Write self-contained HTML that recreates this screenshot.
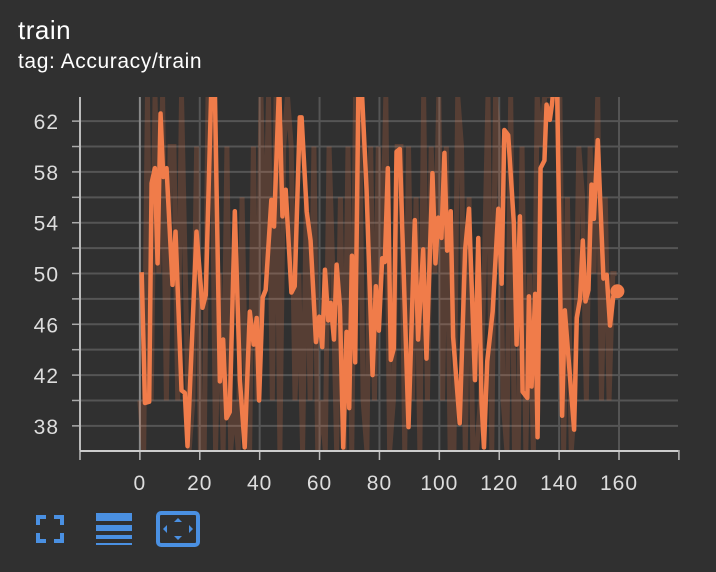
<!DOCTYPE html>
<html><head><meta charset="utf-8"><style>
html,body{margin:0;padding:0;background:#303030;width:716px;height:572px;overflow:hidden;font-family:"Liberation Sans",sans-serif;}
#title{position:absolute;left:18px;top:15px;color:#fff;font-size:26px;letter-spacing:0.5px;}
#sub{position:absolute;left:18px;top:50px;color:#fff;font-size:21px;letter-spacing:0.6px;}
svg{position:absolute;left:0;top:0;}
</style></head><body>
<div id="title">train</div>
<div id="sub">tag: Accuracy/train</div>
<svg id="chart" width="716" height="572"></svg>
<script>
const steps=[0.6,1.7,3.1,3.9,5,5.9,6.9,7.8,8.9,10.9,11.9,13.9,15,15.9,18.9,20.9,22,23.9,25,26.7,27.8,28.9,30,31.7,33.4,35,36.7,38,39,39.8,41,42,43.9,44.8,46.5,47.6,48.7,50.6,51.7,53.4,54,55.7,57,58.8,59.9,60.9,61.8,62.9,63.7,64.8,65.7,66.8,67.9,69,69.9,70.8,71.9,73,74,75.7,77.7,78.8,79.8,80.9,81.8,82.8,83.8,84.8,85.7,86.8,89.7,91.8,92.9,94.6,95.7,97.7,98.7,99.6,100.7,101.7,102.6,103.8,104.6,106.8,108.6,109.9,111.9,113,114.1,114.9,116,117.8,119.7,120.8,121.7,123,124.9,125.8,126.9,127.8,129.4,129.9,130.8,132,132.8,133.8,135.1,135.8,136.9,137.6,138.3,139.3,141,141.9,145,145.9,147,147.9,148.8,149.8,150.8,151.6,152.9,154.8,155.9,157,158.1,159.2];
const smoothed=[50.1,39.8,39.9,57.1,58.3,50.8,62.6,57.6,58.3,49.1,53.3,40.8,40.6,36.4,53.3,47.3,48.3,65,65,41.5,44.8,38.6,39.1,54.9,41.6,36.3,47,44.4,46.5,40,48.1,48.7,55.8,53.7,65,54.5,56.6,48.5,49,62.3,62.3,54.9,52.6,44.6,46.6,44.2,50.3,46.3,47.7,44.8,50.7,47.4,36.3,45.4,39.4,51.4,43,65,65,56.6,42,49,45.5,51.2,50.9,58.3,43.2,44.1,59.6,59.8,37.9,54.2,44.8,51.9,43.3,57.9,50.8,54.4,52.8,59.5,51.8,54.9,45,38.2,51.8,55.1,41.6,52.8,39.8,36.3,43.1,47,55.1,49.2,61.3,60.9,53.9,44.4,54.5,40.7,40.2,48.2,41.1,48.4,37.1,58.3,58.9,63.3,62.1,63.3,65,65,38.8,47.1,37.7,46.5,48,52.6,47.8,48.7,57,54.3,60.5,49.6,49.9,45.9,48.2,48.6];
const raw=[40,36,64,40,64,50,64,40,60,60,40,64,50,36,40,60,36,36,64,64,36,50,36,60,36,40,36,56,40,36,60,40,64,50,64,40,64,36,60,64,60,40,50,36,56,40,60,36,40,36,60,50,36,56,36,60,36,64,64,40,36,60,40,60,50,64,36,40,60,60,36,60,40,56,36,64,40,60,50,64,40,60,36,36,64,60,36,56,36,36,40,50,64,36,64,60,40,36,64,36,36,60,36,50,36,64,60,64,64,64,64,64,36,56,36,40,60,56,40,60,50,64,40,56,40,50,50];
const yTicks=[38,42,46,50,54,58,62];
const xTicks=[0,20,40,60,80,100,120,140,160];
const X0=80,X1=678,Y0=97,Y1=450;
const xMin=-20,xMax=179.7,yMin=36.1,yMax=63.9;
const sx=v=>X0+(v-xMin)/(xMax-xMin)*(X1-X0);
const sy=v=>Y1-(v-yMin)/(yMax-yMin)*(Y1-Y0);
const svg=document.getElementById('chart');
const NS='http://www.w3.org/2000/svg';
function mk(t,a){const e=document.createElementNS(NS,t);for(const k in a)e.setAttribute(k,a[k]);svg.appendChild(e);return e;}
const clip=mk('clipPath',{id:'cp'});
const r=document.createElementNS(NS,'rect');r.setAttribute('x',X0);r.setAttribute('y',Y0);r.setAttribute('width',X1-X0);r.setAttribute('height',Y1-Y0);clip.appendChild(r);
for(let v=36;v<=64;v+=2){const y=sy(v);if(y<Y0-1||y>Y1)continue;
 const g=mk('line',{x1:X0,x2:X1,y1:y,y2:y,stroke:'#555',"stroke-width":2});
 
 const t=mk('line',{x1:72,x2:X0,y1:y,y2:y,stroke:'#aaa',"stroke-width":1.5});
 }
for(let v=-20;v<=180;v+=20){const x=sx(v);
 if(v>-20&&x<X1-2){const g=mk('line',{x1:x,x2:x,y1:Y0,y2:Y1,stroke:v===0?'#888':'#555',"stroke-width":2});
 }
 if(x<=X1+1){const t=mk('line',{x1:x,x2:x,y1:Y1,y2:460,stroke:'#bbb',"stroke-width":1.5});
 }}
const rawPts=raw.map((v,i)=>sx(i*159.2/(raw.length-1))+','+sy(v)).join(' ');
const rl=mk('polyline',{points:rawPts,fill:'none',stroke:'rgba(240,120,70,0.2)',"stroke-width":5,"clip-path":'url(#cp)'});

const pts=steps.map((s,i)=>sx(s)+','+sy(smoothed[i])).join(' ');
const sl=mk('polyline',{points:pts,fill:'none',stroke:'#f07c4a',"stroke-width":4.5,"stroke-linejoin":'round',"clip-path":'url(#cp)'});

const li=steps.length-1;
const dot=mk('circle',{cx:sx(steps[li])+0.8,cy:sy(smoothed[li]),r:7,fill:'#f07c4a'});

const ax=mk('line',{x1:X0,x2:X1,y1:Y1+1,y2:Y1+1,stroke:'#ccc',"stroke-width":2});

const ay=mk('line',{x1:X0,x2:X0,y1:Y0,y2:Y1,stroke:'#bbb',"stroke-width":2});

yTicks.forEach(v=>{const t=mk('text',{x:59,y:sy(v)+8,fill:'#ddd',"font-size":21,"letter-spacing":1,"text-anchor":'end',"font-family":'Liberation Sans, sans-serif'});t.textContent=v;
 });
xTicks.forEach(v=>{const t=mk('text',{x:sx(v),y:490,fill:'#ddd',"font-size":21,"letter-spacing":1,"text-anchor":'middle',"font-family":'Liberation Sans, sans-serif'});t.textContent=v;
 });
</script>
<svg width="716" height="572" style="pointer-events:none">
<g fill="none" stroke="#4a90e2" stroke-width="4">
<path d="M38 525V517H46M54 517H62V525M62 533V541H54M46 541H38V533"/></g>
<g fill="#4a90e2">
<rect x="96" y="513" width="36" height="8"/><rect x="96" y="525" width="36" height="6"/><rect x="96" y="535" width="36" height="4"/><rect x="96" y="543" width="36" height="2"/></g>
<g>
<rect x="158" y="513" width="40" height="32" rx="3" fill="none" stroke="#4a90e2" stroke-width="4"/>
<path d="M178 518l-4 4h8zM178 540l-4-4h8zM163 529l4-4v8zM193 529l-4-4v8z" fill="#4a90e2"/></g>
</svg>
</body></html>
